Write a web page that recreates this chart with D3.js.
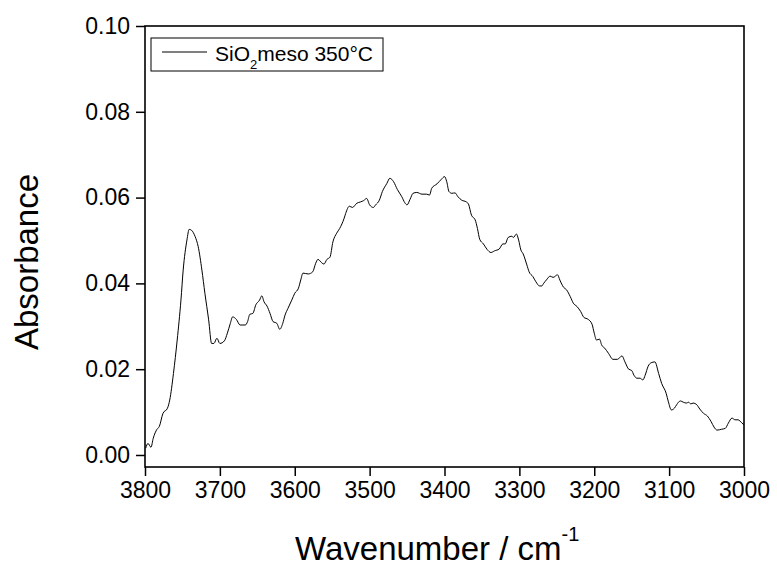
<!DOCTYPE html>
<html>
<head>
<meta charset="utf-8">
<script src="https://cdn.jsdelivr.net/npm/d3@7"></script>
<style>
  html, body { margin: 0; padding: 0; background: #fff; }
  svg { display: block; }
  text { font-family: "Liberation Sans", Arial, Helvetica, sans-serif; fill: #000; }
</style>
</head>
<body>
<svg id="chart" width="777" height="567"></svg>
<script>
// IR spectrum of mesoporous SiO2 treated at 350 °C (OH stretching region)
const wavenumbers = [
  3799, 3796, 3792, 3789, 3784, 3781, 3776, 3770, 3767, 3762,
  3757, 3752, 3749, 3744, 3741, 3738, 3733, 3729, 3724, 3720,
  3715, 3711, 3708, 3704, 3700, 3694, 3690, 3686, 3683, 3678,
  3673, 3666, 3663, 3660, 3656, 3652, 3647, 3644, 3641, 3637,
  3633, 3629, 3624, 3620, 3616, 3613, 3609, 3604, 3600, 3595,
  3592, 3589, 3582, 3576, 3572, 3569, 3564, 3561, 3557, 3553,
  3549, 3544, 3540, 3534, 3532, 3527, 3523, 3517, 3512, 3508,
  3504, 3500, 3495, 3492, 3487, 3483, 3477, 3473, 3468, 3463,
  3457, 3453, 3450, 3446, 3442, 3437, 3430, 3424, 3420, 3417,
  3410, 3404, 3400, 3397, 3394, 3390, 3386, 3382, 3377, 3371,
  3368, 3364, 3359, 3356, 3353, 3348, 3343, 3338, 3333, 3327,
  3322, 3319, 3315, 3310, 3308, 3304, 3301, 3298, 3295, 3290,
  3287, 3282, 3278, 3273, 3270, 3268, 3263, 3259, 3255, 3249,
  3246, 3241, 3237, 3232, 3228, 3223, 3218, 3214, 3208, 3203,
  3200, 3197, 3193, 3190, 3186, 3181, 3175, 3169, 3163, 3159,
  3154, 3150, 3147, 3143, 3139, 3135, 3132, 3128, 3124, 3119,
  3114, 3110, 3104, 3101, 3097, 3093, 3090, 3085, 3081, 3077,
  3074, 3071, 3068, 3063, 3059, 3054, 3049, 3044, 3040, 3036,
  3030, 3025, 3021, 3016, 3012, 3008, 3003, 3000
];
const absorbance = [
  0.0016, 0.0027, 0.0018, 0.0039, 0.0060, 0.0066, 0.0097, 0.0109, 0.0128, 0.0190,
  0.0268, 0.0361, 0.0431, 0.0501, 0.0526, 0.0524, 0.0509, 0.0486, 0.0431, 0.0377,
  0.0315, 0.0260, 0.0260, 0.0272, 0.0260, 0.0266, 0.0284, 0.0307, 0.0322, 0.0316,
  0.0303, 0.0303, 0.0311, 0.0328, 0.0330, 0.0350, 0.0361, 0.0371, 0.0357, 0.0347,
  0.0330, 0.0311, 0.0307, 0.0293, 0.0307, 0.0326, 0.0342, 0.0361, 0.0377, 0.0389,
  0.0408, 0.0424, 0.0422, 0.0427, 0.0447, 0.0456, 0.0448, 0.0445, 0.0456, 0.0461,
  0.0497, 0.0517, 0.0528, 0.0552, 0.0563, 0.0580, 0.0577, 0.0587, 0.0590, 0.0593,
  0.0598, 0.0583, 0.0577, 0.0583, 0.0594, 0.0614, 0.0633, 0.0645, 0.0637, 0.0619,
  0.0602, 0.0588, 0.0583, 0.0596, 0.0610, 0.0612, 0.0608, 0.0608, 0.0606, 0.0622,
  0.0632, 0.0643, 0.0649, 0.0637, 0.0614, 0.0610, 0.0611, 0.0602, 0.0594, 0.0590,
  0.0585, 0.0559, 0.0548, 0.0528, 0.0503, 0.0492, 0.0479, 0.0472, 0.0476, 0.0480,
  0.0492, 0.0492, 0.0507, 0.0510, 0.0507, 0.0515, 0.0501, 0.0478, 0.0469, 0.0443,
  0.0427, 0.0416, 0.0404, 0.0394, 0.0394, 0.0399, 0.0410, 0.0417, 0.0414, 0.0420,
  0.0408, 0.0391, 0.0385, 0.0369, 0.0354, 0.0346, 0.0334, 0.0321, 0.0316, 0.0305,
  0.0284, 0.0268, 0.0270, 0.0256, 0.0249, 0.0237, 0.0223, 0.0223, 0.0231, 0.0217,
  0.0200, 0.0197, 0.0186, 0.0179, 0.0179, 0.0175, 0.0186, 0.0207, 0.0215, 0.0217,
  0.0190, 0.0167, 0.0144, 0.0124, 0.0105, 0.0109, 0.0117, 0.0126, 0.0123, 0.0121,
  0.0123, 0.0119, 0.0121, 0.0117, 0.0107, 0.0097, 0.0091, 0.0078, 0.0065, 0.0058,
  0.0060, 0.0062, 0.0074, 0.0086, 0.0082, 0.0082, 0.0075, 0.0070
];
const xTicks = [3800, 3700, 3600, 3500, 3400, 3300, 3200, 3100, 3000];
const yTicks = [0.00, 0.02, 0.04, 0.06, 0.08, 0.10];
const seriesName = "SiO";
const seriesSub = "2";
const seriesRest = "meso 350°C";

const svg = d3.select("#chart");
const plot = { left: 145, right: 744, top: 26, bottom: 467 };

const x = d3.scaleLinear().domain([3800, 3000]).range([plot.left, plot.right]);
const y = d3.scaleLinear().domain([-0.0028, 0.10]).range([plot.bottom, plot.top]);

const points = wavenumbers.map((w, i) => [w, absorbance[i]]);

// spectrum trace
const line = d3.line()
  .x(d => x(d[0]))
  .y(d => y(d[1]))
  .curve(d3.curveMonotoneX);

svg.append("path")
  .datum(points)
  .attr("fill", "none")
  .attr("stroke", "#000")
  .attr("stroke-width", 1)
  .attr("stroke-linejoin", "round")
  .attr("d", line);

// axes
const xAxis = svg.append("g")
  .attr("transform", `translate(0,${plot.bottom})`)
  .call(d3.axisBottom(x).tickValues(xTicks).tickFormat(d3.format("d")).tickSize(9).tickPadding(6).tickSizeOuter(0));
const yAxis = svg.append("g")
  .attr("transform", `translate(${plot.left},0)`)
  .call(d3.axisLeft(y).tickValues(yTicks).tickFormat(d3.format(".2f")).tickSize(9).tickPadding(6).tickSizeOuter(0));

[xAxis, yAxis].forEach(g => {
  g.select(".domain").remove();
  g.selectAll(".tick line").attr("stroke", "#000").attr("stroke-width", 1.5);
  g.selectAll(".tick text").style("font-size", "23px").attr("fill", "#000");
});

// frame
svg.append("rect")
  .attr("x", plot.left).attr("y", plot.top)
  .attr("width", plot.right - plot.left).attr("height", plot.bottom - plot.top)
  .attr("fill", "none").attr("stroke", "#000").attr("stroke-width", 1.6);

// axis titles
svg.append("text")
  .attr("transform", `translate(38,262) rotate(-90)`)
  .attr("text-anchor", "middle")
  .style("font-size", "33px")
  .text("Absorbance");

const xt = svg.append("text")
  .attr("x", 295).attr("y", 560)
  .style("font-size", "33px");
xt.append("tspan").text("Wavenumber / cm");
xt.append("tspan").attr("dy", -19).style("font-size", "20px").text("-1");

// legend
const lg = svg.append("g");
lg.append("rect")
  .attr("x", 151).attr("y", 38).attr("width", 232).attr("height", 33)
  .attr("fill", "#fff").attr("stroke", "#000").attr("stroke-width", 1);
lg.append("line")
  .attr("x1", 162).attr("x2", 207).attr("y1", 52).attr("y2", 52)
  .attr("stroke", "#000").attr("stroke-width", 1);
const lt = lg.append("text").attr("x", 215).attr("y", 61).style("font-size", "21px");
lt.append("tspan").text(seriesName);
lt.append("tspan").attr("dy", 8).style("font-size", "13px").text(seriesSub);
lt.append("tspan").attr("dy", -8).text(seriesRest);
</script>
</body>
</html>
